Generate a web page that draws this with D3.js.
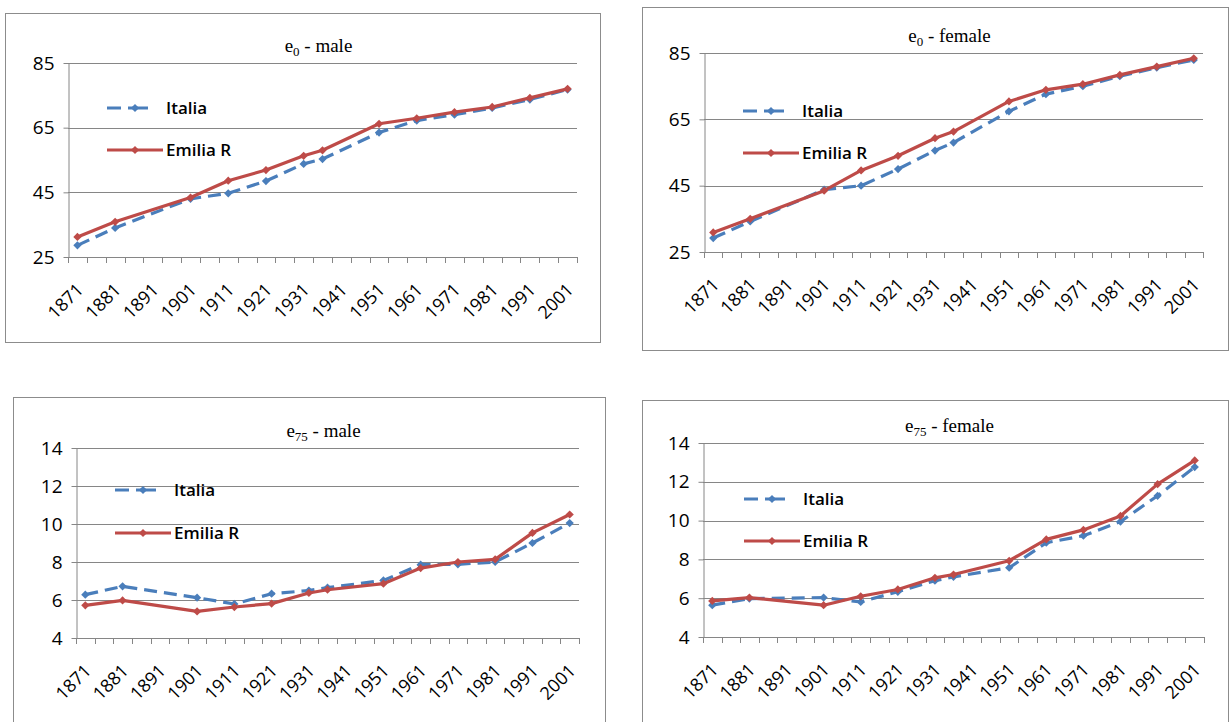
<!DOCTYPE html>
<html>
<head>
<meta charset="utf-8">
<script src="https://cdn.jsdelivr.net/npm/d3@7"></script>
<style>
  body { margin: 0; background: #fff; }
  .tick-label { font-family: "Open Sans", "Noto Sans", sans-serif; fill: #000; }
  .title { font-family: "Liberation Serif", "DejaVu Serif", serif; fill: #000; }
  .legend-text { font-family: "Open Sans", "Noto Sans", sans-serif; fill: #000; }
</style>
</head>
<body>
<script>
// categories of the category axis (5-year steps), only every 2nd is labelled
var categories = d3.range(1871, 2002, 5);
var yearLabels = [1871, 1881, 1891, 1901, 1911, 1921, 1931, 1941, 1951, 1961, 1971, 1981, 1991, 2001];

// years with a life table
var years = [1871, 1881, 1901, 1911, 1921, 1931, 1936, 1951, 1961, 1971, 1981, 1991, 2001];

var e0Ticks = [25, 45, 65, 85];
var e75Ticks = [4, 6, 8, 10, 12, 14];

var e0MaleItalia   = [28.6, 34.0, 43.0, 44.7, 48.5, 53.8, 55.3, 63.5, 67.2, 69.0, 71.1, 73.7, 76.8];
var e0MaleEmilia   = [31.2, 35.9, 43.4, 48.6, 51.9, 56.3, 58.0, 66.2, 67.9, 69.8, 71.4, 74.2, 77.0];
var e0FemaleItalia = [29.2, 34.2, 43.8, 45.0, 50.0, 55.6, 58.0, 67.4, 72.6, 75.0, 78.0, 80.6, 82.9];
var e0FemaleEmilia = [30.9, 35.0, 43.5, 49.6, 54.0, 59.3, 61.3, 70.4, 73.9, 75.6, 78.4, 80.9, 83.4];

var e75MaleItalia   = [6.28, 6.72, 6.12, 5.79, 6.33, 6.50, 6.65, 7.03, 7.86, 7.88, 8.00, 9.00, 10.05];
var e75MaleEmilia   = [5.72, 5.98, 5.40, 5.63, 5.81, 6.37, 6.54, 6.86, 7.68, 8.00, 8.14, 9.53, 10.50];
var e75FemaleItalia = [5.64, 5.98, 6.03, 5.81, 6.33, 6.90, 7.10, 7.57, 8.86, 9.22, 9.95, 11.28, 12.76];
var e75FemaleEmilia = [5.86, 6.03, 5.64, 6.10, 6.45, 7.05, 7.22, 7.93, 9.03, 9.52, 10.24, 11.88, 13.10];

var seriesNames = ["Italia", "Emilia R"];

var blue = "#4a7ebb",
    red = "#be4b48",
    grid = "#868686";

var width = 1230, height = 722;

var svg = d3.select("body")
    .append("svg")
    .attr("width", width)
    .attr("height", height);

// one entry per chart box
var panels = [
    {sub: "0",  sex: "male",   box: [5, 13, 600, 342],    plot: [68, 63, 577, 257],
     ticks: e0Ticks, italia: e0MaleItalia, emilia: e0MaleEmilia, legend: [107, 108, 150]},
    {sub: "0",  sex: "female", box: [642, 7, 1228, 350],  plot: [704, 53, 1203, 252],
     ticks: e0Ticks, italia: e0FemaleItalia, emilia: e0FemaleEmilia, legend: [743, 111, 153]},
    {sub: "75", sex: "male",   box: [13, 397, 605, 740],  plot: [76, 448, 579, 638],
     ticks: e75Ticks, italia: e75MaleItalia, emilia: e75MaleEmilia, legend: [115, 490, 533]},
    {sub: "75", sex: "female", box: [642, 400, 1228, 740], plot: [703, 443, 1204, 637],
     ticks: e75Ticks, italia: e75FemaleItalia, emilia: e75FemaleEmilia, legend: [744, 499, 541]}
];

var diamond = d3.symbol().type(d3.symbolSquare).size(34);

panels.forEach(function(p) {

    var g = svg.append("g");

    // chart border
    g.append("rect")
        .attr("x", p.box[0] + 0.5)
        .attr("y", p.box[1] + 0.5)
        .attr("width", p.box[2] - p.box[0])
        .attr("height", p.box[3] - p.box[1])
        .attr("fill", "#fff")
        .attr("stroke", "#8c8c8c");

    var x = d3.scaleBand()
        .domain(categories)
        .range([p.plot[0], p.plot[2]]);

    var y = d3.scaleLinear()
        .domain(d3.extent(p.ticks))
        .range([p.plot[3], p.plot[1]]);

    // gridlines
    g.append("g")
        .selectAll("line")
        .data(p.ticks)
        .enter().append("line")
        .attr("x1", p.plot[0])
        .attr("x2", p.plot[2])
        .attr("y1", function(d) { return Math.round(y(d)) + 0.5; })
        .attr("y2", function(d) { return Math.round(y(d)) + 0.5; })
        .attr("stroke", grid);

    // Y axis
    var yAxis = g.append("g")
        .attr("transform", "translate(" + (p.plot[0] + 0.5) + ",0)")
        .call(d3.axisLeft(y).tickValues(p.ticks).tickSize(5).tickSizeOuter(0).tickPadding(9));
    yAxis.selectAll("path, line").attr("stroke", grid);
    yAxis.selectAll("text")
        .attr("class", "tick-label")
        .style("font-size", "19px")
        .attr("font-family", null);

    // X axis: a tick on every category boundary
    var xTicks = categories.map(function(c) { return x(c); }).concat([p.plot[2]]);
    g.append("g")
        .selectAll("line")
        .data(xTicks)
        .enter().append("line")
        .attr("x1", function(d) { return Math.round(d) + 0.5; })
        .attr("x2", function(d) { return Math.round(d) + 0.5; })
        .attr("y1", Math.round(y.range()[0]))
        .attr("y2", Math.round(y.range()[0]) + 6)
        .attr("stroke", grid);

    g.append("g")
        .selectAll("text")
        .data(yearLabels)
        .enter().append("text")
        .attr("class", "tick-label")
        .style("font-size", "18px")
        .attr("text-anchor", "end")
        .attr("transform", function(d) {
            var cx = x(d) + x.bandwidth() / 2 + 7;
            var cy = y.range()[0] + 34;
            return "translate(" + cx + "," + cy + ") rotate(-45)";
        })
        .text(function(d) { return d; });

    // title: e<sub> - sex
    var title = g.append("text")
        .attr("class", "title")
        .attr("x", (p.plot[0] + p.plot[2]) / 2 - 4)
        .attr("y", p.plot[1] - 11)
        .attr("text-anchor", "middle")
        .style("font-size", "19px");
    title.append("tspan").text("e");
    title.append("tspan").attr("dy", 4).style("font-size", "13px").text(p.sub);
    title.append("tspan").attr("dy", -4).text(" - " + p.sex);

    // series
    var line = d3.line()
        .x(function(d) { return x(d[0]) + x.bandwidth() / 2; })
        .y(function(d) { return y(d[1]); });

    var series = [
        {name: seriesNames[0], color: blue, dash: "13,7", values: d3.zip(years, p.italia)},
        {name: seriesNames[1], color: red,  dash: null,   values: d3.zip(years, p.emilia)}
    ];

    series.forEach(function(s) {
        g.append("path")
            .datum(s.values)
            .attr("fill", "none")
            .attr("stroke", s.color)
            .attr("stroke-width", 3.2)
            .attr("stroke-dasharray", s.dash)
            .attr("stroke-linejoin", "round")
            .attr("d", line);

        g.append("g")
            .selectAll("path")
            .data(s.values)
            .enter().append("path")
            .attr("d", diamond)
            .attr("fill", s.color)
            .attr("transform", function(d) {
                return "translate(" + (x(d[0]) + x.bandwidth() / 2) + "," + y(d[1]) + ") rotate(45)";
            });
    });

    // legend
    var lx = p.legend[0];
    series.forEach(function(s, i) {
        var ly = p.legend[i + 1];
        g.append("line")
            .attr("x1", lx)
            .attr("x2", i === 0 ? lx + 41 : lx + 56)
            .attr("y1", ly)
            .attr("y2", ly)
            .attr("stroke", s.color)
            .attr("stroke-width", 3.2)
            .attr("stroke-dasharray", i === 0 ? "14,7,20,30" : null);
        g.append("path")
            .attr("d", diamond)
            .attr("fill", s.color)
            .attr("transform", "translate(" + (lx + 28) + "," + ly + ") rotate(45)");
        g.append("text")
            .attr("class", "legend-text")
            .attr("x", lx + 59)
            .attr("y", ly + 6)
            .style("font-size", "17px")
            .style("font-weight", 600)
            .text(s.name);
    });
});
</script>
</body>
</html>
